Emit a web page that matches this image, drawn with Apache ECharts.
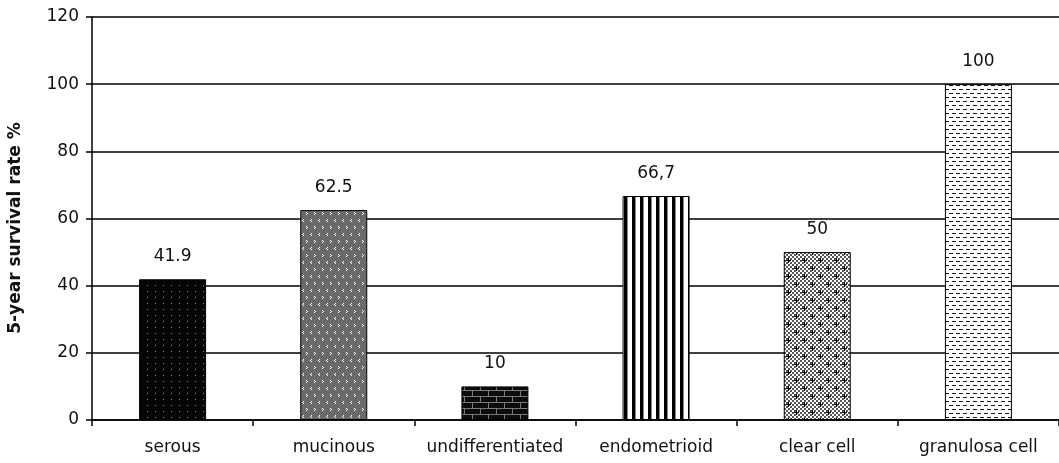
<!DOCTYPE html>
<html>
<head>
<meta charset="utf-8">
<script src="https://cdn.jsdelivr.net/npm/echarts@6/dist/echarts.min.js"></script>
<style>
  html, body { margin: 0; padding: 0; background: #fff; }
  #chart { width: 1059px; height: 463px; }
</style>
</head>
<body>
<div id="chart"></div>
<script>
// Five-year survival by histological type
const categories = ['serous', 'mucinous', 'undifferentiated', 'endometrioid', 'clear cell', 'granulosa cell'];
const survival = [41.9, 62.5, 10, 66.7, 50, 100];
const valueLabels = ['41.9', '62.5', '10', '66,7', '50', '100'];
const yTicks = [0, 20, 40, 60, 80, 100, 120];
const yTitle = '5-year survival rate %';

// Small tiled canvases used as bar fills
function tile(w, h, bg, draw) {
  const c = document.createElement('canvas');
  c.width = w; c.height = h;
  const g = c.getContext('2d');
  g.fillStyle = bg; g.fillRect(0, 0, w, h);
  draw(g);
  return { image: c, repeat: 'repeat' };
}
function px(g, col, pts) {
  g.fillStyle = col;
  pts.forEach(p => g.fillRect(p[0], p[1], p[2] || 1, p[3] || 1));
}

const fills = [
  // dotted black
  tile(8, 6, '#050505', g => px(g, '#8a8a8a', [[3, 3]])),
  // grey with small white chevrons
  tile(16, 14, '#6a6a6a', g => px(g, '#ffffff', [
    [2, 2], [3, 3], [2, 4], [10, 2], [11, 3], [10, 4],
    [7, 9], [6, 10], [7, 11], [15, 9], [14, 10], [15, 11]
  ])),
  // brick wall
  tile(16, 12, '#0c0c0c', g => px(g, '#7a7a7a', [
    [0, 0, 16, 1], [0, 6, 16, 1], [0, 0, 1, 6], [8, 6, 1, 6]
  ])),
  // vertical stripes
  tile(8, 1, '#ffffff', g => { px(g, '#000', [[0, 0, 3, 1]]); px(g, '#888', [[3, 0, 1, 1]]); }),
  // fine check with black crosses
  tile(16, 16, '#ffffff', g => {
    g.fillStyle = '#555';
    for (let y = 0; y < 16; y += 2) for (let x = (y % 4 === 0 ? 0 : 2); x < 16; x += 4) g.fillRect(x, y, 2, 2);
    px(g, '#000', [[4, 2, 1, 5], [2, 4, 5, 1], [12, 10, 1, 5], [10, 12, 5, 1]]);
  }),
  // white with short dashes
  tile(7, 8, '#ffffff', g => px(g, '#1a1a1a', [[0, 1, 4, 1], [4, 5, 3, 1], [0, 5, 1, 1]]))
];

const chart = echarts.init(document.getElementById('chart'), null, { renderer: 'canvas' });
const font = 'DejaVu Sans, Verdana, sans-serif';
const ink = '#111';

chart.setOption({
  animation: false,
  backgroundColor: '#ffffff',
  grid: { left: 92, top: 17, width: 973, height: 403, containLabel: false },
  graphic: [{
    type: 'text',
    x: 16,
    y: 228,
    rotation: Math.PI / 2,
    style: {
      text: yTitle,
      fill: ink,
      font: 'bold 17px ' + font,
      align: 'center',
      verticalAlign: 'middle'
    }
  }],
  xAxis: {
    type: 'category',
    data: categories,
    axisLine: { lineStyle: { color: '#000', width: 1.5 } },
    axisTick: { show: true, interval: 0, alignWithLabel: false, length: 6, lineStyle: { color: '#000', width: 1.5 } },
    axisLabel: { interval: 0, color: ink, fontFamily: font, fontSize: 17, margin: 19 },
    splitLine: { show: false }
  },
  yAxis: {
    type: 'value',
    min: yTicks[0],
    max: yTicks[yTicks.length - 1],
    interval: yTicks[1] - yTicks[0],
    axisLine: { show: true, lineStyle: { color: '#000', width: 1.5 } },
    axisTick: { show: true, length: 6, lineStyle: { color: '#000', width: 1.5 } },
    axisLabel: { color: ink, fontFamily: font, fontSize: 17, margin: 13 },
    splitLine: { show: true, lineStyle: { color: '#000', width: 1.5 } }
  },
  series: [{
    type: 'bar',
    barWidth: 67,
    data: survival.map((v, i) => ({
      value: v,
      itemStyle: { color: fills[i], borderColor: '#000', borderWidth: 1 }
    })),
    label: {
      show: true,
      position: 'top',
      distance: 14,
      color: ink,
      fontFamily: font,
      fontSize: 17,
      formatter: p => valueLabels[p.dataIndex]
    }
  }]
});
</script>
</body>
</html>
